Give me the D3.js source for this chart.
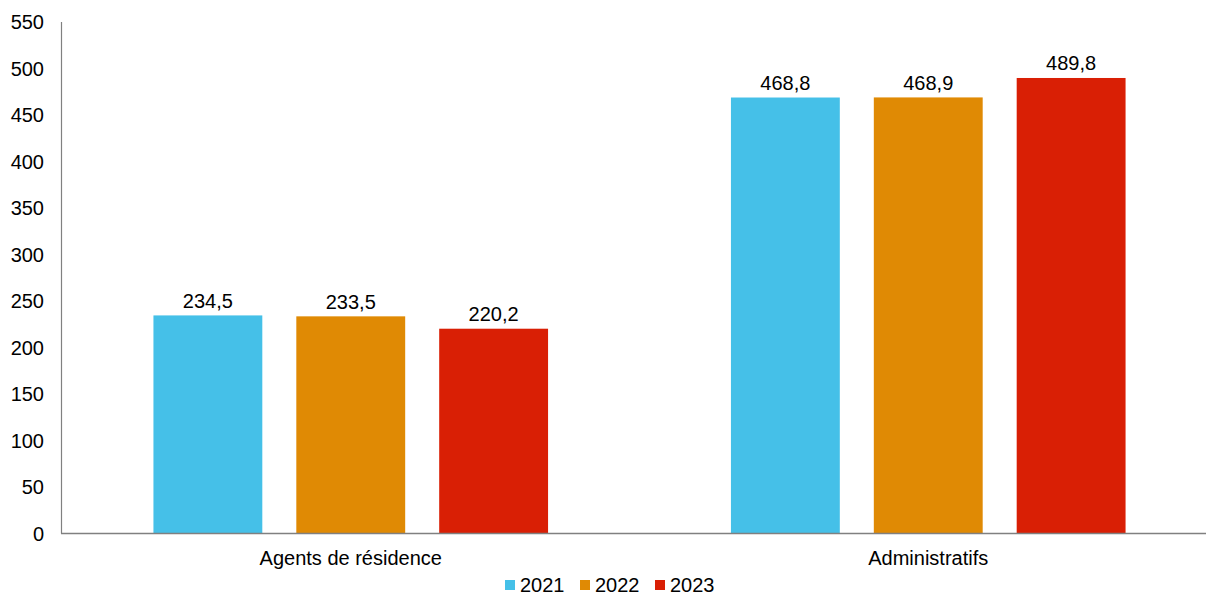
<!DOCTYPE html>
<html><head><meta charset="utf-8">
<script src="https://cdn.jsdelivr.net/npm/d3@7"></script>
<style>body{margin:0;background:#fff}text{font-family:"Liberation Sans",Arial,sans-serif}</style>
</head><body><svg id="c" width="1206" height="595"></svg>
<script>
const categories = ["Agents de résidence", "Administratifs"];
const years = ["2021", "2022", "2023"];
const v2021 = [234.5, 468.8];
const v2022 = [233.5, 468.9];
const v2023 = [220.2, 489.8];
const yTicks = [0,50,100,150,200,250,300,350,400,450,500,550];
const colors = ["#45C0E8", "#E08A04", "#D91F05"];
const series = [v2021, v2022, v2023];

(function(){
const svg = d3.select("#c");
const mLeft = 62, mRight = 1217, mTop = 22, mBottom = 533.5;
const fs = 20;
const x0 = d3.scaleBand().domain(categories).range([mLeft, mRight]);
const x1 = d3.scaleBand().domain(years).range([0, x0.bandwidth()]).paddingInner(0.238).paddingOuter(0.64);
const y = d3.scaleLinear().domain([0, 550]).range([mBottom, mTop]);
const fmt = v => d3.format(".1f")(v).replace(".", ",");

svg.append("g").selectAll("text").data(yTicks).join("text")
  .attr("x", 44).attr("y", d => y(d)).attr("dy", "0.35em")
  .attr("text-anchor", "end").attr("font-size", fs).attr("fill", "#000").text(d => d);

categories.forEach((c, ci) => {
  series.forEach((s, si) => {
    const bx = x0(c) + x1(years[si]);
    svg.append("rect").attr("x", bx).attr("y", y(s[ci]))
      .attr("width", x1.bandwidth()).attr("height", y(0) - y(s[ci]))
      .attr("fill", colors[si]);
    svg.append("text").attr("x", bx + x1.bandwidth()/2).attr("y", y(s[ci]) - 7.5)
      .attr("text-anchor", "middle").attr("font-size", fs).attr("fill", "#000").text(fmt(s[ci]));
  });
  svg.append("text").attr("x", x0(c) + x0.bandwidth()/2).attr("y", 565)
    .attr("text-anchor", "middle").attr("font-size", fs).attr("fill", "#000").text(c);
});

svg.append("line").attr("x1", mLeft - 0.5).attr("x2", mLeft - 0.5).attr("y1", mTop).attr("y2", mBottom)
  .attr("stroke", "#808080").attr("stroke-width", 1.2);
svg.append("line").attr("x1", mLeft - 1).attr("x2", 1206).attr("y1", mBottom).attr("y2", mBottom)
  .attr("stroke", "#808080").attr("stroke-width", 1.5);

const legX = [505, 580, 655];
years.forEach((yr, i) => {
  svg.append("rect").attr("x", legX[i]).attr("y", 580).attr("width", 10).attr("height", 10).attr("fill", colors[i]);
  svg.append("text").attr("x", legX[i] + 15).attr("y", 592).attr("font-size", fs).attr("fill", "#000").text(yr);
});
})();
</script></body></html>
